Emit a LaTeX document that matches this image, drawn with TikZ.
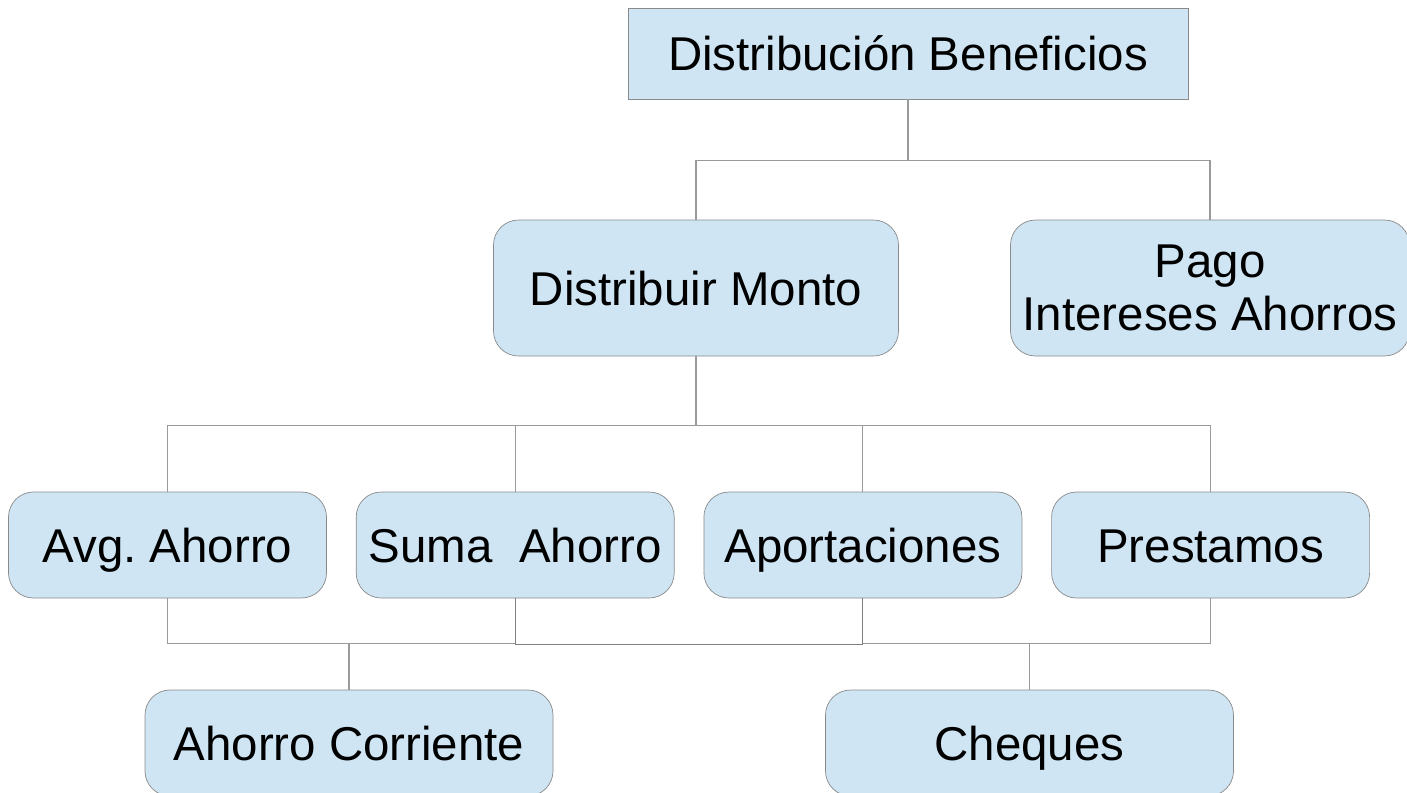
\documentclass[tikz,border=0pt]{standalone}
\usepackage{fontspec}
\setmainfont{Liberation Sans}
\usepackage{tikz}
\usetikzlibrary{positioning}
\definecolor{cajaazul}{HTML}{CFE5F3}
\definecolor{bordegris}{HTML}{8A8A8A}
\definecolor{lineagris}{HTML}{9A9A9A}
\tikzstyle{linea} = [draw=lineagris, line width=0.6pt]

\begin{document}
\frenchspacing
\begin{tikzpicture}[
raiz/.style={rectangle, draw=bordegris, fill=cajaazul, minimum width=11.2cm, minimum height=1.82cm, inner sep=0pt, text height=0.68cm, text depth=0cm, font=\fontsize{27}{30.2}\selectfont},
rama/.style={rectangle, rounded corners=0.5cm, draw=bordegris, fill=cajaazul, minimum width=8.1cm, minimum height=2.72cm, inner sep=0pt, text height=0.68cm, text depth=0cm, font=\fontsize{27}{30.2}\selectfont},
hoja/.style={rectangle, rounded corners=0.5cm, draw=bordegris, fill=cajaazul, minimum width=6.36cm, minimum height=2.12cm, inner sep=0pt, text height=0.68cm, text depth=0cm, font=\fontsize{27}{30.2}\selectfont},
cuenta/.style={hoja, minimum width=8.16cm},
]
\useasboundingbox (0,0) rectangle (28.14,-15.84);
%Nodes
\node[raiz]      (beneficios)   at (18.16,-1.07)   {Distribución Beneficios};
\node[rama]      (distribuir)   at (13.92,-5.76)   {Distribuir Monto};
\node[rectangle, rounded corners=0.5cm, draw=bordegris, fill=cajaazul, minimum width=7.98cm, minimum height=2.72cm, inner sep=0pt, align=center, font=\fontsize{27}{30.2}\selectfont]
                 (pago)         at (24.2,-5.76)    {Pago\\Intereses Ahorros};
\node[hoja]      (avg)          at (3.35,-10.9)    {Avg. Ahorro};
\node[hoja]      (suma)         [right=0.58cm of avg]   {Suma~~Ahorro};
\node[hoja]      (aportaciones) [right=0.58cm of suma]  {Aportaciones};
\node[hoja]      (prestamos)    [right=0.58cm of aportaciones] {Prestamos};
\node[cuenta]    (corriente)    at (6.98,-14.86)   {Ahorro Corriente};
\node[cuenta]    (cheques)      at (20.59,-14.86)  {Cheques};

%Lines
\draw[linea] (beneficios.south) -- ++(0,-1.22) -| (distribuir.north);
\draw[linea] (beneficios.south) -- ++(0,-1.22) -| (pago.north);
\draw[linea] (distribuir.south) -- ++(0,-1.38) -| (avg.north);
\draw[linea] (distribuir.south) -- ++(0,-1.38) -| (suma.north);
\draw[linea] (distribuir.south) -- ++(0,-1.38) -| (aportaciones.north);
\draw[linea] (distribuir.south) -- ++(0,-1.38) -| (prestamos.north);
\draw[linea] (avg.south) -- ++(0,-0.9) -| (corriente.north);
\draw[linea] (suma.south) -- ++(0,-0.9) -| (corriente.north);
\draw[linea] (aportaciones.south) -- ++(0,-0.9) -| (cheques.north);
\draw[linea] (prestamos.south) -- ++(0,-0.9) -| (cheques.north);
\draw[linea, draw=gray] (suma.south) -- ++(0,-0.92) -| (aportaciones.south);

\end{tikzpicture}
\end{document}
